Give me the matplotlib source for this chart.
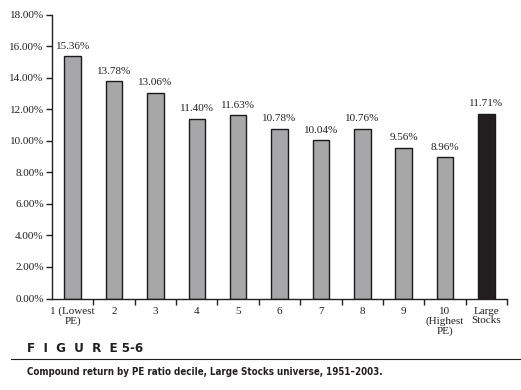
import matplotlib
matplotlib.use("Agg")
import matplotlib.pyplot as plt
from matplotlib.lines import Line2D
from matplotlib import font_manager

categories = ["1 (Lowest\nPE)", "2", "3", "4", "5", "6", "7", "8", "9",
              "10\n(Highest\nPE)", "Large\nStocks"]
values = [15.36, 13.78, 13.06, 11.40, 11.63, 10.78, 10.04, 10.76, 9.56, 8.96, 11.71]
yticks = [0, 2, 4, 6, 8, 10, 12, 14, 16, 18]

serif = "Liberation Serif"
fig = plt.figure(figsize=(5.21, 3.9), dpi=100)
ax = fig.add_axes([52/521, 1-298.5/390, 455/521, (298.5-14.7)/390])

colors = ["#a7a7a9"] * 10 + ["#231f20"]
x = list(range(len(values)))
ax.bar(x, values, width=0.4, color=colors, edgecolor="#1a1a1a", linewidth=1.0, zorder=2)
for xi, v in zip(x, values):
    ax.annotate(f"{v:.2f}%", (xi, v), xytext=(0, 4), textcoords="offset points",
                ha="center", va="bottom", fontsize=8, family=serif, color="#231f20")

ax.set_xlim(-0.5, 10.5)
ax.set_ylim(0, 18)
ax.set_yticks(yticks)
ax.set_yticklabels([f"{t:.2f}%" for t in yticks], family=serif, fontsize=8, color="#231f20")
ax.set_xticks([i + 0.5 for i in range(11)])
ax.set_xticklabels([])
ax.set_xticks(x, minor=True)
ax.set_xticklabels(categories, minor=True, family=serif, fontsize=8, color="#231f20",
                   linespacing=1.05, va="top")
ax.tick_params(axis="x", which="minor", length=0, pad=6)
ax.tick_params(axis="x", which="major", length=4, width=1, direction="out", color="#231f20")
ax.tick_params(axis="y", length=4, width=1, direction="out", color="#231f20", pad=2)
for s in ["top", "right"]:
    ax.spines[s].set_visible(False)
for s in ["left", "bottom"]:
    ax.spines[s].set_linewidth(1.0)
    ax.spines[s].set_color("#231f20")

# find a condensed bold face if one is installed
cond = None
for f in font_manager.fontManager.ttflist:
    n = f.name.lower()
    if ("condensed" in n or "narrow" in n or f.stretch in ("condensed", 500 - 125)) and f.weight in ("bold", 700):
        cond = f.fname
        break
if cond is None:
    for f in font_manager.fontManager.ttflist:
        if "condensed" in f.fname.lower() and "bold" in f.fname.lower() and "oblique" not in f.fname.lower():
            cond = f.fname
            break
if cond:
    fp1 = font_manager.FontProperties(fname=cond, size=9.5)
    fp2 = font_manager.FontProperties(fname=cond, size=7.0)
else:
    fp1 = font_manager.FontProperties(family="DejaVu Sans", weight="bold", size=8.5)
    fp2 = font_manager.FontProperties(family="DejaVu Sans", weight="bold", size=6.5)

fig.text(27/521, 1-348/390, "F  I  G  U  R  E 5-6", fontproperties=fp1,
         va="center", ha="left", color="#231f20")
fig.add_artist(Line2D([11/521, 1.0], [1-359/390, 1-359/390], transform=fig.transFigure,
                      color="#231f20", linewidth=0.8))
fig.text(27/521, 1-372/390, "Compound return by PE ratio decile, Large Stocks universe, 1951\u20132003.",
         fontproperties=fp2, va="center", ha="left", color="#231f20")

fig.savefig("out.png", dpi=100)
